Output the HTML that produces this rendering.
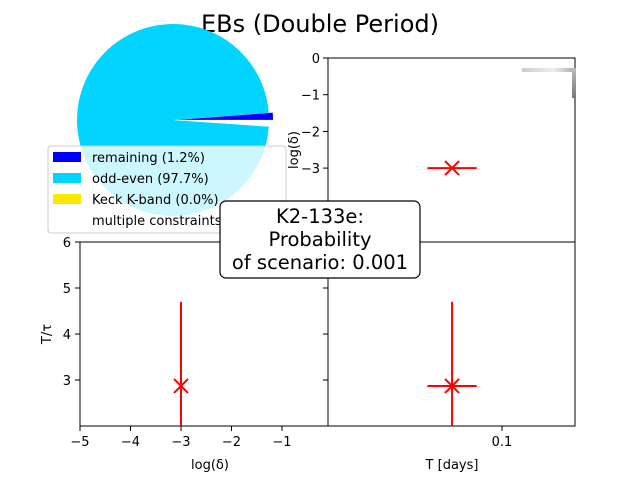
<!DOCTYPE html>
<html><head><meta charset="utf-8"><style>
body{margin:0;background:#fff;}
svg{font-family:"DejaVu Sans","Liberation Sans",sans-serif;}
</style></head><body>
<svg id="c" width="640" height="480">
<defs>
<linearGradient id="g1" x1="0" x2="1"><stop offset="0" stop-color="#ccc"/><stop offset="0.6" stop-color="#eee"/><stop offset="1" stop-color="#aaa"/></linearGradient>
<linearGradient id="g2" x1="0" x2="0" y1="0" y2="1"><stop offset="0" stop-color="#bbb"/><stop offset="1" stop-color="#777"/></linearGradient>
</defs>
<text x="320" y="32" font-size="24" text-anchor="middle">EBs (Double Period)</text>
<g id="pie"></g>
<g>
<rect x="48" y="146" width="238" height="87" rx="3" fill="#fff" fill-opacity="0.8" stroke="#ccc"/>
<rect x="53" y="152" width="28" height="10" fill="#0000ff"/>
<text x="92" y="162" font-size="13">remaining (1.2%)</text>
<rect x="53" y="173" width="28" height="10" fill="#00d4ff"/>
<text x="92" y="183" font-size="13">odd-even (97.7%)</text>
<rect x="53" y="194" width="28" height="10" fill="#ffe800"/>
<text x="92" y="204" font-size="13">Keck K-band (0.0%)</text>
<text x="92" y="225" font-size="13">multiple constraints</text>
</g>
<g id="axes"></g>
<rect x="522" y="68" width="53" height="4" fill="url(#g1)"/>
<rect x="572" y="68" width="4" height="30" fill="url(#g2)"/>
<g>
<rect x="220" y="201" width="200" height="77" rx="6" fill="#fff" stroke="#000" stroke-width="1.2"/>
<text x="320" y="223" font-size="19.5" text-anchor="middle">K2-133e:</text>
<text x="320" y="246" font-size="19.5" text-anchor="middle">Probability</text>
<text x="320" y="269" font-size="19.5" text-anchor="middle">of scenario: 0.001</text>
</g>
</svg>
<script>
const pieLabels=['remaining','odd-even','Keck K-band','multiple constraints'];
const pieValues=[1.2,97.7,0.0,1.1];
const pieColors=['#0000ff','#00d4ff','#ffe800','#ffffff'];
const deltaVals=[-3];
const ratioVals=[2.87];
const ratioErrUp=[1.83];
const ratioErrDn=[0.87];
const periodVals=[0.0773];
const periodErr=[0.0112];
const xTicksDelta=[-5,-4,-3,-2,-1];
const yTicksDelta=[0,-1,-2,-3];
const yTicksRatio=[6,5,4,3];
const NS='http://www.w3.org/2000/svg';
const svg=document.getElementById('c');
function mk(t,a,p){const e=document.createElementNS(NS,t);for(const k in a)e.setAttribute(k,a[k]);(p||svg).appendChild(e);return e;}
const pg=document.getElementById('pie');
const cx=173,cy=120,R=96;
const tot=pieValues.reduce((a,b)=>a+b,0);
let a0=0;
pieValues.forEach((v,i)=>{
  const a1=a0+v/tot*2*Math.PI;
  if(v>0){
    const ex=i===0?4:0, mid=(a0+a1)/2;
    const ox=cx+ex*Math.cos(mid), oy=cy-ex*Math.sin(mid);
    const large=(a1-a0)>Math.PI?1:0;
    const d=`M${ox},${oy} L${ox+R*Math.cos(a0)},${oy-R*Math.sin(a0)} A${R},${R} 0 ${large} 0 ${ox+R*Math.cos(a1)},${oy-R*Math.sin(a1)} Z`;
    const p=mk('path',{d:d,fill:pieColors[i]},pg);
    
    
  }
  a0=a1;
});
const ag=document.getElementById('axes');
const xD=v=>80+(v+5)*50.5;
const yD=v=>58+(-v)*36.7;
const yR=v=>242+(6-v)*46;
const xT=v=>502+(v-0.1)*2200;
function line(x1,y1,x2,y2,c,w,name){const l=mk('line',{x1,y1,x2,y2,stroke:c,'stroke-width':w},ag);return l;}
function txt(x,y,s,anchor,size,name){const t=mk('text',{x,y,'font-size':size||12,'text-anchor':anchor||'middle'},ag);t.textContent=s;return t;}
function frame(x,y,w,h,name){const r=mk('rect',{x,y,width:w,height:h,fill:'none',stroke:'#000','stroke-width':1},ag);}
frame(328,58,247,184,'top-right-axes');
frame(80,242,248,184,'bottom-left-axes');
frame(328,242,247,184,'bottom-right-axes');
yTicksDelta.forEach(v=>{line(323,yD(v),328,yD(v),'#000',1,'y-tick');txt(320,yD(v)+5,(v<0?'\u2212'+(-v):v),'end',13,'y-tick-label');});
yTicksRatio.forEach(v=>{line(75,yR(v),80,yR(v),'#000',1,'y-tick');txt(71,yR(v)+5,String(v),'end',13,'y-tick-label');line(323,yR(v),328,yR(v),'#000',1,'y-tick');});
xTicksDelta.forEach(v=>{line(xD(v),426,xD(v),431,'#000',1,'x-tick');txt(xD(v),446,'\u2212'+(-v),'middle',13,'x-tick-label');});
line(xT(0.1),426,xT(0.1),431,'#000',1,'x-tick');txt(xT(0.1),446,'0.1','middle',13,'x-tick-label');
txt(210,469,'log(\u03b4)','middle',13,'x-axis-title-delta');
txt(452,469,'T [days]','middle',13,'x-axis-title-period');
const yt=txt(0,0,'log(\u03b4)','middle',13,'y-axis-title-delta');yt.setAttribute('transform','translate(298,150) rotate(-90)');
const yt2=txt(0,0,'T/\u03c4','middle',13,'y-axis-title-ratio');yt2.setAttribute('transform','translate(51,334) rotate(-90)');
function cross(x,y,name){line(x-7,y-7,x+7,y+7,'red',2,name);line(x-7,y+7,x+7,y-7,'red',2,name);}
periodVals.forEach((p,i)=>{const x=xT(p),y=yD(deltaVals[i]);line(xT(p-periodErr[i]),y,xT(p+periodErr[i]),y,'red',2,'errbar-x');cross(x,y,'marker-period-delta');});
deltaVals.forEach((d,i)=>{const x=xD(d);line(x,yR(ratioVals[i]+ratioErrUp[i]),x,Math.min(426,yR(ratioVals[i]-ratioErrDn[i])),'red',2,'errbar-y');cross(x,yR(ratioVals[i]),'marker-delta-ratio');});
periodVals.forEach((p,i)=>{const x=xT(p),y=yR(ratioVals[i]);line(x,yR(ratioVals[i]+ratioErrUp[i]),x,Math.min(426,yR(ratioVals[i]-ratioErrDn[i])),'red',2,'errbar-y');line(xT(p-periodErr[i]),y,xT(p+periodErr[i]),y,'red',2,'errbar-x');cross(x,y,'marker-period-ratio');});
</script>
</body></html>
